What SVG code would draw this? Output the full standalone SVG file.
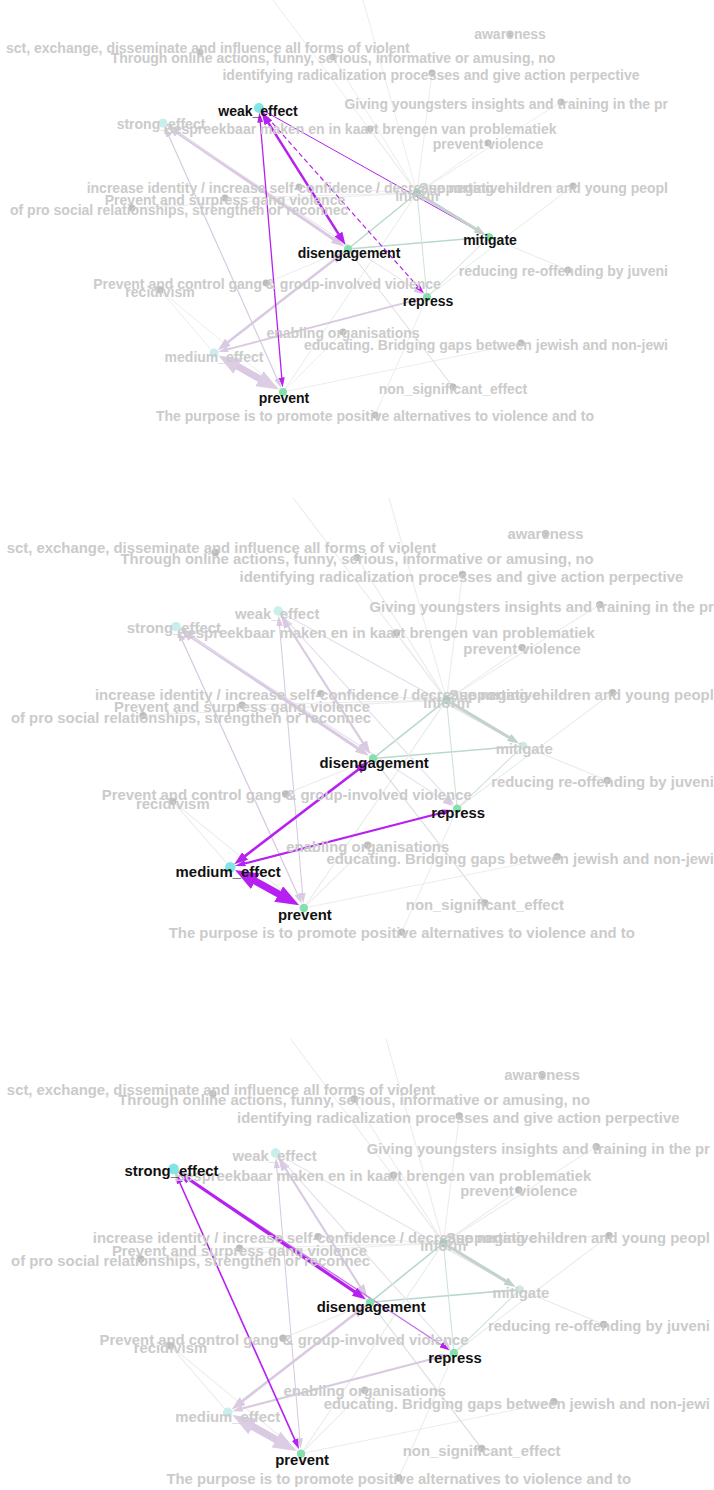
<svg xmlns="http://www.w3.org/2000/svg" width="714" height="1490" viewBox="0 0 714 1490">
<style>
text{font-family:"Liberation Sans",Arial,sans-serif;font-size:14px;font-weight:bold}
.t{fill:#cbcbcb}
.tb{fill:#111}
.m{text-anchor:middle}
.e{text-anchor:end}
line{fill:none}
.fl{stroke:#ececec;stroke-width:1}
.fg{stroke:#e2eee7;stroke-width:1}
.g1{stroke:#b9dacb;stroke-width:1.5}
.g3{stroke:#c3d2ca;stroke-width:3}
.gt{stroke:#d0e1d8;stroke-width:1}
.gy{stroke:#dadada;stroke-width:1}
.pf{stroke:#d9cae2}
.pf2{stroke:#e6dded}
.pm{stroke:#b620f0}
.pl{stroke:#c46ee8}
.d{fill:#bdbdbd}
.hub{fill:#acc9b9}
.cy{fill:#7fe6e6}
.cyf{fill:#c8eeee}
.gr{fill:#86e0ae}
.grf{fill:#d2e9dd}
</style>
<defs>
<marker id="mS" viewBox="0 0 10 10" refX="0.5" refY="5" markerUnits="userSpaceOnUse" markerWidth="10" markerHeight="6" orient="auto-start-reverse" preserveAspectRatio="none"><path d="M0,0L10,5L0,10z" fill="#b620f0"/></marker>
<marker id="mM" viewBox="0 0 10 10" refX="0.5" refY="5" markerUnits="userSpaceOnUse" markerWidth="13" markerHeight="9" orient="auto-start-reverse" preserveAspectRatio="none"><path d="M0,0L10,5L0,10z" fill="#b620f0"/></marker>
<marker id="mL" viewBox="0 0 10 10" refX="0.5" refY="5" markerUnits="userSpaceOnUse" markerWidth="22" markerHeight="17" orient="auto-start-reverse" preserveAspectRatio="none"><path d="M0,0L10,5L0,10z" fill="#b620f0"/></marker>
<marker id="fS" viewBox="0 0 10 10" refX="0.5" refY="5" markerUnits="userSpaceOnUse" markerWidth="10" markerHeight="6" orient="auto-start-reverse" preserveAspectRatio="none"><path d="M0,0L10,5L0,10z" fill="#d9cae2"/></marker>
<marker id="fM" viewBox="0 0 10 10" refX="0.5" refY="5" markerUnits="userSpaceOnUse" markerWidth="13" markerHeight="9" orient="auto-start-reverse" preserveAspectRatio="none"><path d="M0,0L10,5L0,10z" fill="#d9cae2"/></marker>
<marker id="fL" viewBox="0 0 10 10" refX="0.5" refY="5" markerUnits="userSpaceOnUse" markerWidth="22" markerHeight="17" orient="auto-start-reverse" preserveAspectRatio="none"><path d="M0,0L10,5L0,10z" fill="#dccde4"/></marker>
<marker id="gM" viewBox="0 0 10 10" refX="0.5" refY="5" markerUnits="userSpaceOnUse" markerWidth="11" markerHeight="8" orient="auto" preserveAspectRatio="none"><path d="M0,0L10,5L0,10z" fill="#c3d2ca"/></marker>
</defs>

<!-- ================= PANEL 1 (focus: weak_effect) ================= -->
<g id="panel1">
<g id="p1-connectors">
<line class="fl" x1="417" y1="193" x2="273" y2="0"/>
<line class="fl" x1="417" y1="193" x2="363" y2="0"/>
<line class="fl" x1="417" y1="193" x2="333" y2="57"/>
<line class="fl" x1="417" y1="193" x2="432" y2="73"/>
<line class="fl" x1="417" y1="193" x2="561" y2="102"/>
<line class="fl" x1="417" y1="193" x2="370" y2="129"/>
<line class="fl" x1="417" y1="193" x2="488" y2="143"/>
<line class="fl" x1="417" y1="193" x2="573" y2="186"/>
<line class="fl" x1="417" y1="193" x2="299" y2="187"/>
<line class="fl" x1="417" y1="193" x2="132" y2="208"/>
<line class="fl" x1="417" y1="193" x2="225" y2="198"/>
<line class="fl" x1="283" y1="392" x2="343" y2="332"/>
<line class="fl" x1="283" y1="392" x2="521" y2="343"/>
<line class="fl" x1="160" y1="290" x2="283" y2="392"/>
<line class="fl" x1="427" y1="297" x2="375" y2="415"/>
<line class="fl" x1="348" y1="249" x2="266" y2="283"/>
<line class="fl" x1="214" y1="353" x2="160" y2="290"/>
<line class="fg" x1="573" y1="186" x2="427" y2="297"/>
<line class="fg" x1="489" y1="237" x2="568" y2="270"/>
<line class="g1" x1="348" y1="249" x2="417" y2="193"/>
<line class="g1" x1="348" y1="249" x2="489" y2="237"/>
<line class="gt" x1="417" y1="193" x2="427" y2="297"/>
<line class="gt" x1="427" y1="297" x2="489" y2="237"/>
<line class="fg" x1="283" y1="392" x2="417" y2="193"/>
<line class="gy" x1="348" y1="249" x2="453" y2="387"/>
<line class="pf" x1="177.05" y1="132.57" x2="333.95" y2="239.43" stroke-width="3" marker-start="url(#fM)" marker-end="url(#fM)"/>
<line class="pf" x1="168.7" y1="135.8" x2="277.3" y2="379.2" stroke-width="1.2" marker-start="url(#fS)" marker-end="url(#fS)"/>
<line class="pf2" x1="166.3" y1="125.2" x2="415.3" y2="289.3" stroke-width="1" marker-end="url(#fS)"/>
<line class="pf" x1="227.4" y1="342.6" x2="334.6" y2="259.4" stroke-width="2.5" marker-start="url(#fM)" marker-end="url(#fM)"/>
<line class="pf" x1="227.5" y1="349.4" x2="413.5" y2="300.6" stroke-width="2" marker-start="url(#fS)" marker-end="url(#fS)"/>
<line class="pf" x1="236.6" y1="365.8" x2="260.4" y2="379.2" stroke-width="7" marker-start="url(#fL)" marker-end="url(#fL)"/>
<line class="pm" x1="262.5" y1="110" x2="476.8" y2="230.2" stroke-width="1" marker-end="url(#mS)"/>
<line class="g3" x1="420.4" y1="195.1" x2="476.2" y2="229.2" marker-end="url(#gM)"/>
<line class="pm" x1="268.1" y1="122.4" x2="338.9" y2="234.6" stroke-width="2.5" marker-start="url(#mM)" marker-end="url(#mM)"/>
<line class="pm" x1="260.2" y1="122" x2="281.8" y2="378" stroke-width="1.3" marker-start="url(#mS)" marker-end="url(#mS)"/>
<line class="pm" x1="261.7" y1="111" x2="417.7" y2="286.5" stroke-width="1.2" stroke-dasharray="5 3" marker-end="url(#mS)"/>
</g>
<g id="p1-nodes">
<g id="p1-n-awareness"><circle class="d" cx="510" cy="34" r="3.5"/><text class="t m" x="510" y="39">awareness</text></g>
<g id="p1-n-connect"><circle class="d" cx="200" cy="52" r="3.5"/><text class="t" x="6" y="53">sct, exchange, disseminate and influence all forms of violent</text></g>
<g id="p1-n-through"><circle class="d" cx="333" cy="57" r="3.5"/><text class="t m" x="333" y="63">Through online actions, funny, serious, informative or amusing, no</text></g>
<g id="p1-n-identifying"><circle class="d" cx="432" cy="73" r="3.5"/><text class="t m" x="431" y="80">identifying radicalization processes and give action perpective</text></g>
<g id="p1-n-giving"><circle class="d" cx="561" cy="102" r="3.5"/><text class="t e" x="668" y="109">Giving youngsters insights and training in the pr</text></g>
<g id="p1-n-bespreek"><circle class="d" cx="370" cy="129" r="3.5"/><text class="t m" x="360" y="134">Bespreekbaar maken en in kaart brengen van problematiek</text></g>
<g id="p1-n-preventviolence"><circle class="d" cx="488" cy="143" r="3.5"/><text class="t m" x="488" y="149">prevent violence</text></g>
<g id="p1-n-increase"><circle class="d" cx="299" cy="187" r="3.5"/><text class="t m" x="296" y="193">increase identity / increase self-confidence / decrease negative</text></g>
<g id="p1-n-supporting"><circle class="d" cx="573" cy="186" r="3.5"/><text class="t e" x="668" y="193">Supporting children and young peopl</text></g>
<g id="p1-n-surpress"><circle class="d" cx="225" cy="198" r="3.5"/><text class="t m" x="225" y="205">Prevent and surpress gang violence</text></g>
<g id="p1-n-ofpro"><circle class="d" cx="132" cy="208" r="3.5"/><text class="t" x="10" y="215">of pro social relationships, strengthen or reconnec</text></g>
<g id="p1-n-reducing"><circle class="d" cx="568" cy="270" r="3.5"/><text class="t e" x="668" y="276">reducing re-offending by juveni</text></g>
<g id="p1-n-control"><circle class="d" cx="266" cy="283" r="3.5"/><text class="t m" x="267" y="289">Prevent and control gang &amp; group-involved violence</text></g>
<g id="p1-n-recid"><circle class="d" cx="160" cy="290" r="3.5"/><text class="t m" x="160" y="297">recidivism</text></g>
<g id="p1-n-enabling"><circle class="d" cx="343" cy="332" r="3.5"/><text class="t m" x="343" y="338">enabling organisations</text></g>
<g id="p1-n-educating"><circle class="d" cx="521" cy="343" r="3.5"/><text class="t e" x="668" y="350">educating. Bridging gaps between jewish and non-jewi</text></g>
<g id="p1-n-nonsig"><circle class="d" cx="453" cy="387" r="3.5"/><text class="t m" x="453" y="394">non_significant_effect</text></g>
<g id="p1-n-purpose"><circle class="d" cx="375" cy="415" r="3.5"/><text class="t m" x="375" y="421">The purpose is to promote positive alternatives to violence and to</text></g>
<g id="p1-n-inform"><circle class="hub" cx="417" cy="193" r="4"/><text class="t m" x="417" y="201">inform</text></g>
<g id="p1-n-strong"><circle class="cyf" cx="163" cy="123" r="4.5"/><text class="t m" x="161" y="129">strong_effect</text></g>
<g id="p1-n-medium"><circle class="cyf" cx="214" cy="353" r="4.5"/><text class="t m" x="214" y="362">medium_effect</text></g>
<g id="p1-n-weak"><circle class="cy" cx="259" cy="108" r="5"/><text class="tb m" x="258" y="116">weak_effect</text></g>
<g id="p1-n-diseng"><circle class="gr" cx="348" cy="249" r="4"/><text class="tb m" x="349" y="258">disengagement</text></g>
<g id="p1-n-mitigate"><circle class="gr" cx="489" cy="237" r="4"/><text class="tb m" x="490" y="245">mitigate</text></g>
<g id="p1-n-repress"><circle class="gr" cx="427" cy="297" r="4"/><text class="tb m" x="428" y="306">repress</text></g>
<g id="p1-n-prevent"><circle class="gr" cx="283" cy="392" r="4"/><text class="tb m" x="284" y="403">prevent</text></g>
</g>
</g>

<!-- ================= PANEL 2 (focus: medium_effect) ================= -->
<g id="panel2" transform="matrix(1.065 0 0 1.046 2.4 498)">
<g id="p2-connectors">
<line class="fl" x1="417" y1="193" x2="273" y2="0"/>
<line class="fl" x1="417" y1="193" x2="363" y2="0"/>
<line class="fl" x1="417" y1="193" x2="333" y2="57"/>
<line class="fl" x1="417" y1="193" x2="432" y2="73"/>
<line class="fl" x1="417" y1="193" x2="561" y2="102"/>
<line class="fl" x1="417" y1="193" x2="370" y2="129"/>
<line class="fl" x1="417" y1="193" x2="488" y2="143"/>
<line class="fl" x1="417" y1="193" x2="573" y2="186"/>
<line class="fl" x1="417" y1="193" x2="299" y2="187"/>
<line class="fl" x1="417" y1="193" x2="132" y2="208"/>
<line class="fl" x1="417" y1="193" x2="225" y2="198"/>
<line class="fl" x1="283" y1="392" x2="343" y2="332"/>
<line class="fl" x1="283" y1="392" x2="521" y2="343"/>
<line class="fl" x1="160" y1="290" x2="283" y2="392"/>
<line class="fl" x1="427" y1="297" x2="375" y2="415"/>
<line class="fl" x1="348" y1="249" x2="266" y2="283"/>
<line class="fl" x1="214" y1="353" x2="160" y2="290"/>
<line class="fg" x1="573" y1="186" x2="427" y2="297"/>
<line class="fg" x1="489" y1="237" x2="568" y2="270"/>
<line class="g1" x1="348" y1="249" x2="417" y2="193"/>
<line class="g1" x1="348" y1="249" x2="489" y2="237"/>
<line class="gt" x1="417" y1="193" x2="427" y2="297"/>
<line class="gt" x1="427" y1="297" x2="489" y2="237"/>
<line class="fg" x1="283" y1="392" x2="417" y2="193"/>
<line class="gy" x1="348" y1="249" x2="453" y2="387"/>
<line class="pf" x1="177.05" y1="132.57" x2="333.95" y2="239.43" stroke-width="3" marker-start="url(#fM)" marker-end="url(#fM)"/>
<line class="pf" x1="168.7" y1="135.8" x2="277.3" y2="379.2" stroke-width="1.2" marker-start="url(#fS)" marker-end="url(#fS)"/>
<line class="pf2" x1="166.3" y1="125.2" x2="415.3" y2="289.3" stroke-width="1" marker-end="url(#fS)"/>
<line class="pf" x1="268.1" y1="122.4" x2="338.9" y2="234.6" stroke-width="2" marker-start="url(#fM)" marker-end="url(#fM)"/>
<line class="pf" x1="260.2" y1="122" x2="281.8" y2="378" stroke-width="1" marker-start="url(#fS)" marker-end="url(#fS)"/>
<line class="pf2" x1="261.7" y1="111" x2="417.7" y2="286.5" stroke-width="1" marker-end="url(#fS)"/>
<line class="pf2" x1="262.5" y1="110" x2="476.8" y2="230.2" stroke-width="1"/>
<line class="g3" x1="420.4" y1="195.1" x2="476.2" y2="229.2" marker-end="url(#gM)"/>
<line class="pm" x1="227.4" y1="342.6" x2="334.6" y2="259.4" stroke-width="2.5" marker-start="url(#mM)" marker-end="url(#mM)"/>
<line class="pm" x1="227.5" y1="349.4" x2="413.5" y2="300.6" stroke-width="2" marker-start="url(#mS)" marker-end="url(#mS)"/>
<line class="pm" x1="236.6" y1="365.8" x2="260.4" y2="379.2" stroke-width="7" marker-start="url(#mL)" marker-end="url(#mL)"/>
</g>
<g id="p2-nodes">
<g id="p2-n-awareness"><circle class="d" cx="510" cy="34" r="3.5"/><text class="t m" x="510" y="39">awareness</text></g>
<g id="p2-n-connect"><circle class="d" cx="200" cy="52" r="3.5"/><text class="t" x="4" y="53">sct, exchange, disseminate and influence all forms of violent</text></g>
<g id="p2-n-through"><circle class="d" cx="333" cy="57" r="3.5"/><text class="t m" x="333" y="63">Through online actions, funny, serious, informative or amusing, no</text></g>
<g id="p2-n-identifying"><circle class="d" cx="432" cy="73" r="3.5"/><text class="t m" x="431" y="80">identifying radicalization processes and give action perpective</text></g>
<g id="p2-n-giving"><circle class="d" cx="561" cy="102" r="3.5"/><text class="t e" x="668" y="109">Giving youngsters insights and training in the pr</text></g>
<g id="p2-n-bespreek"><circle class="d" cx="370" cy="129" r="3.5"/><text class="t m" x="360" y="134">Bespreekbaar maken en in kaart brengen van problematiek</text></g>
<g id="p2-n-preventviolence"><circle class="d" cx="488" cy="143" r="3.5"/><text class="t m" x="488" y="149">prevent violence</text></g>
<g id="p2-n-increase"><circle class="d" cx="299" cy="187" r="3.5"/><text class="t m" x="296" y="193">increase identity / increase self-confidence / decrease negative</text></g>
<g id="p2-n-supporting"><circle class="d" cx="573" cy="186" r="3.5"/><text class="t e" x="668" y="193">Supporting children and young peopl</text></g>
<g id="p2-n-surpress"><circle class="d" cx="225" cy="198" r="3.5"/><text class="t m" x="225" y="205">Prevent and surpress gang violence</text></g>
<g id="p2-n-ofpro"><circle class="d" cx="132" cy="208" r="3.5"/><text class="t" x="8" y="215">of pro social relationships, strengthen or reconnec</text></g>
<g id="p2-n-reducing"><circle class="d" cx="568" cy="270" r="3.5"/><text class="t e" x="668" y="276">reducing re-offending by juveni</text></g>
<g id="p2-n-control"><circle class="d" cx="266" cy="283" r="3.5"/><text class="t m" x="267" y="289">Prevent and control gang &amp; group-involved violence</text></g>
<g id="p2-n-recid"><circle class="d" cx="160" cy="290" r="3.5"/><text class="t m" x="160" y="297">recidivism</text></g>
<g id="p2-n-enabling"><circle class="d" cx="343" cy="332" r="3.5"/><text class="t m" x="343" y="338">enabling organisations</text></g>
<g id="p2-n-educating"><circle class="d" cx="521" cy="343" r="3.5"/><text class="t e" x="668" y="350">educating. Bridging gaps between jewish and non-jewi</text></g>
<g id="p2-n-nonsig"><circle class="d" cx="453" cy="387" r="3.5"/><text class="t m" x="453" y="394">non_significant_effect</text></g>
<g id="p2-n-purpose"><circle class="d" cx="375" cy="415" r="3.5"/><text class="t m" x="375" y="421">The purpose is to promote positive alternatives to violence and to</text></g>
<g id="p2-n-inform"><circle class="hub" cx="417" cy="193" r="4"/><text class="t m" x="417" y="201">inform</text></g>
<g id="p2-n-strong"><circle class="cyf" cx="163" cy="123" r="4.5"/><text class="t m" x="161" y="129">strong_effect</text></g>
<g id="p2-n-weak"><circle class="cyf" cx="259" cy="108" r="4.5"/><text class="t m" x="258" y="116">weak_effect</text></g>
<g id="p2-n-mitigate"><circle class="grf" cx="489" cy="237" r="4"/><text class="t m" x="490" y="245">mitigate</text></g>
<g id="p2-n-medium"><circle class="cy" cx="214" cy="353" r="5"/><text class="tb m" x="212" y="362">medium_effect</text></g>
<g id="p2-n-diseng"><circle class="gr" cx="348" cy="249" r="4"/><text class="tb m" x="349" y="258">disengagement</text></g>
<g id="p2-n-repress"><circle class="gr" cx="427" cy="297" r="4"/><text class="tb m" x="428" y="306">repress</text></g>
<g id="p2-n-prevent"><circle class="gr" cx="283" cy="392" r="4"/><text class="tb m" x="284" y="403">prevent</text></g>
</g>
</g>

<!-- ================= PANEL 3 (focus: strong_effect) ================= -->
<g id="panel3" transform="matrix(1.062 0 0 1.0586 0.5 1038.7)">
<g id="p3-connectors">
<line class="fl" x1="417" y1="193" x2="273" y2="0"/>
<line class="fl" x1="417" y1="193" x2="363" y2="0"/>
<line class="fl" x1="417" y1="193" x2="333" y2="57"/>
<line class="fl" x1="417" y1="193" x2="432" y2="73"/>
<line class="fl" x1="417" y1="193" x2="561" y2="102"/>
<line class="fl" x1="417" y1="193" x2="370" y2="129"/>
<line class="fl" x1="417" y1="193" x2="488" y2="143"/>
<line class="fl" x1="417" y1="193" x2="573" y2="186"/>
<line class="fl" x1="417" y1="193" x2="299" y2="187"/>
<line class="fl" x1="417" y1="193" x2="132" y2="208"/>
<line class="fl" x1="417" y1="193" x2="225" y2="198"/>
<line class="fl" x1="283" y1="392" x2="343" y2="332"/>
<line class="fl" x1="283" y1="392" x2="521" y2="343"/>
<line class="fl" x1="160" y1="290" x2="283" y2="392"/>
<line class="fl" x1="427" y1="297" x2="375" y2="415"/>
<line class="fl" x1="348" y1="249" x2="266" y2="283"/>
<line class="fl" x1="214" y1="353" x2="160" y2="290"/>
<line class="fg" x1="573" y1="186" x2="427" y2="297"/>
<line class="fg" x1="489" y1="237" x2="568" y2="270"/>
<line class="g1" x1="348" y1="249" x2="417" y2="193"/>
<line class="g1" x1="348" y1="249" x2="489" y2="237"/>
<line class="gt" x1="417" y1="193" x2="427" y2="297"/>
<line class="gt" x1="427" y1="297" x2="489" y2="237"/>
<line class="fg" x1="283" y1="392" x2="417" y2="193"/>
<line class="gy" x1="348" y1="249" x2="453" y2="387"/>
<line class="pf" x1="268.1" y1="122.4" x2="338.9" y2="234.6" stroke-width="2" marker-start="url(#fM)" marker-end="url(#fM)"/>
<line class="pf" x1="260.2" y1="122" x2="281.8" y2="378" stroke-width="1" marker-start="url(#fS)" marker-end="url(#fS)"/>
<line class="pf2" x1="261.7" y1="111" x2="417.7" y2="286.5" stroke-width="1" marker-end="url(#fS)"/>
<line class="pf2" x1="262.5" y1="110" x2="476.8" y2="230.2" stroke-width="1"/>
<line class="pf" x1="227.4" y1="342.6" x2="334.6" y2="259.4" stroke-width="2.5" marker-start="url(#fM)" marker-end="url(#fM)"/>
<line class="pf" x1="227.5" y1="349.4" x2="413.5" y2="300.6" stroke-width="2" marker-start="url(#fS)" marker-end="url(#fS)"/>
<line class="pf" x1="236.6" y1="365.8" x2="260.4" y2="379.2" stroke-width="7" marker-start="url(#fL)" marker-end="url(#fL)"/>
<line class="g3" x1="420.4" y1="195.1" x2="476.2" y2="229.2" marker-end="url(#gM)"/>
<line class="pl" x1="166.3" y1="125.2" x2="415.3" y2="289.3" stroke-width="1.2" marker-end="url(#mS)"/>
<line class="pm" x1="177.05" y1="132.57" x2="333.95" y2="239.43" stroke-width="3" marker-start="url(#mM)" marker-end="url(#mM)"/>
<line class="pm" x1="168.7" y1="135.8" x2="277.3" y2="379.2" stroke-width="1.5" marker-start="url(#mS)" marker-end="url(#mS)"/>
</g>
<g id="p3-nodes">
<g id="p3-n-awareness"><circle class="d" cx="510" cy="34" r="3.5"/><text class="t m" x="510" y="39">awareness</text></g>
<g id="p3-n-connect"><circle class="d" cx="200" cy="52" r="3.5"/><text class="t" x="6" y="53">sct, exchange, disseminate and influence all forms of violent</text></g>
<g id="p3-n-through"><circle class="d" cx="333" cy="57" r="3.5"/><text class="t m" x="333" y="63">Through online actions, funny, serious, informative or amusing, no</text></g>
<g id="p3-n-identifying"><circle class="d" cx="432" cy="73" r="3.5"/><text class="t m" x="431" y="80">identifying radicalization processes and give action perpective</text></g>
<g id="p3-n-giving"><circle class="d" cx="561" cy="102" r="3.5"/><text class="t e" x="668" y="109">Giving youngsters insights and training in the pr</text></g>
<g id="p3-n-bespreek"><circle class="d" cx="370" cy="129" r="3.5"/><text class="t m" x="360" y="134">Bespreekbaar maken en in kaart brengen van problematiek</text></g>
<g id="p3-n-preventviolence"><circle class="d" cx="488" cy="143" r="3.5"/><text class="t m" x="488" y="149">prevent violence</text></g>
<g id="p3-n-increase"><circle class="d" cx="299" cy="187" r="3.5"/><text class="t m" x="296" y="193">increase identity / increase self-confidence / decrease negative</text></g>
<g id="p3-n-supporting"><circle class="d" cx="573" cy="186" r="3.5"/><text class="t e" x="668" y="193">Supporting children and young peopl</text></g>
<g id="p3-n-surpress"><circle class="d" cx="225" cy="198" r="3.5"/><text class="t m" x="225" y="205">Prevent and surpress gang violence</text></g>
<g id="p3-n-ofpro"><circle class="d" cx="132" cy="208" r="3.5"/><text class="t" x="10" y="215">of pro social relationships, strengthen or reconnec</text></g>
<g id="p3-n-reducing"><circle class="d" cx="568" cy="270" r="3.5"/><text class="t e" x="668" y="276">reducing re-offending by juveni</text></g>
<g id="p3-n-control"><circle class="d" cx="266" cy="283" r="3.5"/><text class="t m" x="267" y="289">Prevent and control gang &amp; group-involved violence</text></g>
<g id="p3-n-recid"><circle class="d" cx="160" cy="290" r="3.5"/><text class="t m" x="160" y="297">recidivism</text></g>
<g id="p3-n-enabling"><circle class="d" cx="343" cy="332" r="3.5"/><text class="t m" x="343" y="338">enabling organisations</text></g>
<g id="p3-n-educating"><circle class="d" cx="521" cy="343" r="3.5"/><text class="t e" x="668" y="350">educating. Bridging gaps between jewish and non-jewi</text></g>
<g id="p3-n-nonsig"><circle class="d" cx="453" cy="387" r="3.5"/><text class="t m" x="453" y="394">non_significant_effect</text></g>
<g id="p3-n-purpose"><circle class="d" cx="375" cy="415" r="3.5"/><text class="t m" x="375" y="421">The purpose is to promote positive alternatives to violence and to</text></g>
<g id="p3-n-inform"><circle class="hub" cx="417" cy="193" r="4"/><text class="t m" x="417" y="201">inform</text></g>
<g id="p3-n-weak"><circle class="cyf" cx="259" cy="108" r="4.5"/><text class="t m" x="258" y="116">weak_effect</text></g>
<g id="p3-n-medium"><circle class="cyf" cx="214" cy="353" r="4.5"/><text class="t m" x="214" y="362">medium_effect</text></g>
<g id="p3-n-mitigate"><circle class="grf" cx="489" cy="237" r="4"/><text class="t m" x="490" y="245">mitigate</text></g>
<g id="p3-n-strong"><circle class="cy" cx="163" cy="123" r="5"/><text class="tb m" x="161" y="130">strong_effect</text></g>
<g id="p3-n-diseng"><circle class="gr" cx="348" cy="249" r="4"/><text class="tb m" x="349" y="258">disengagement</text></g>
<g id="p3-n-repress"><circle class="gr" cx="427" cy="297" r="4"/><text class="tb m" x="428" y="306">repress</text></g>
<g id="p3-n-prevent"><circle class="gr" cx="283" cy="392" r="4"/><text class="tb m" x="284" y="403">prevent</text></g>
</g>
</g>
</svg>
